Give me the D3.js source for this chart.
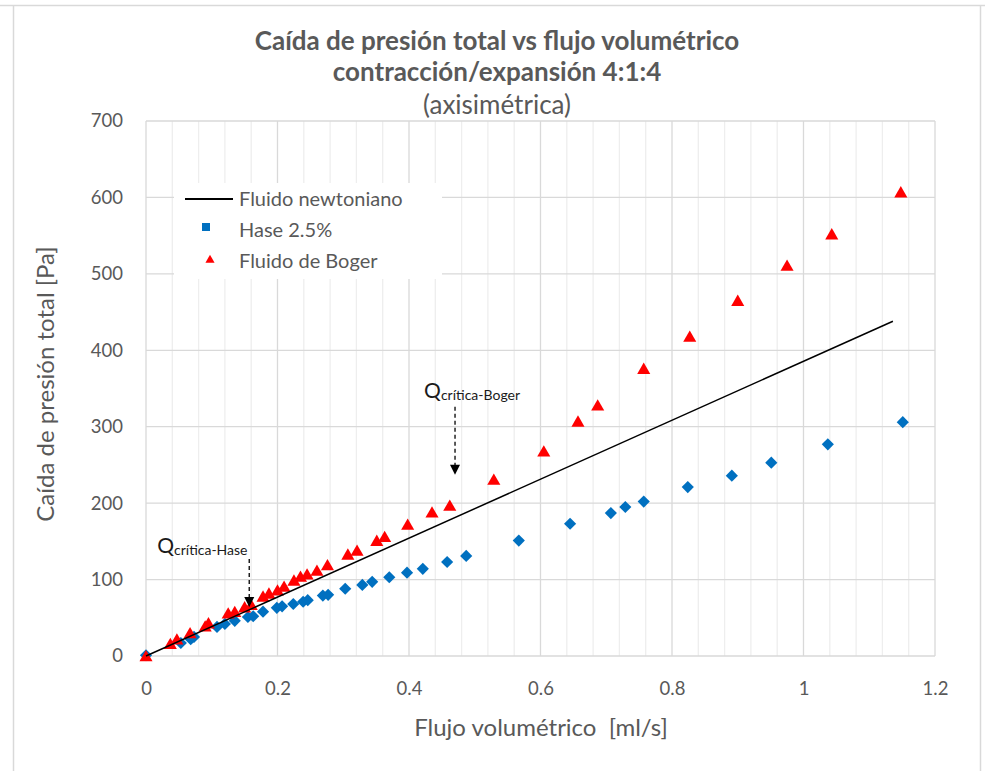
<!DOCTYPE html>
<html>
<head>
<meta charset="utf-8">
<script src="https://cdnjs.cloudflare.com/ajax/libs/d3/7.8.5/d3.min.js"></script>
<style>
  body { margin: 0; background: #fff; }
  text { font-family: Lato, "Open Sans", sans-serif; }
</style>
</head>
<body>
<div id="chart"></div>
<script>
// data
var newtonX = [0, 1.136]
var newtonY = [0, 438]

var haseX = [0, 0.053, 0.068, 0.073, 0.108, 0.12, 0.135, 0.155, 0.163, 0.178, 0.199, 0.207,
  0.224, 0.239, 0.246, 0.269, 0.277, 0.303, 0.329, 0.344, 0.37, 0.397, 0.421, 0.458, 0.487,
  0.567, 0.645, 0.707, 0.729, 0.757, 0.824, 0.891, 0.951, 1.037, 1.151]
var haseY = [1, 17, 22, 25, 38, 42, 46, 51, 52, 58, 63, 65,
  68, 71, 73, 79, 80, 88, 93, 97, 103, 109, 114, 123, 131,
  151, 173, 187, 195, 202, 221, 236, 253, 277, 306]

var bogerX = [0, 0.037, 0.047, 0.067, 0.09, 0.095, 0.125, 0.135, 0.15, 0.16, 0.178, 0.187,
  0.2, 0.21, 0.225, 0.235, 0.245, 0.26, 0.276, 0.307, 0.321, 0.351, 0.363, 0.398, 0.435,
  0.462, 0.529, 0.605, 0.657, 0.687, 0.757, 0.827, 0.9, 0.975, 1.043, 1.148]
var bogerY = [-2, 14, 20, 28, 37, 41, 54, 56, 62, 65, 76, 80,
  84, 89, 97, 102, 105, 110, 117, 131, 136, 149, 154, 170, 186,
  195, 229, 266, 305, 326, 374, 416, 463, 509, 550, 605]

var xTicks = [0, 0.2, 0.4, 0.6, 0.8, 1, 1.2]
var yTicks = [0, 100, 200, 300, 400, 500, 600, 700]

var titleLines = ["Caída de presión total vs flujo volumétrico", "contracción/expansión 4:1:4", "(axisimétrica)"]
var legendNames = ["Fluido newtoniano", "Hase 2.5%", "Fluido de Boger"]

var W = 985, H = 771
var grey = "#595959"

var svg = d3.select("#chart").append("svg")
  .attr("width", W).attr("height", H)

svg.append("rect").attr("width", W).attr("height", H).attr("fill", "#fff")

// outer frame
svg.append("line").attr("x1", 0).attr("x2", W).attr("y1", 5.5).attr("y2", 5.5)
  .attr("stroke", "#d9d9d9").attr("stroke-width", 1.5)
svg.append("line").attr("x1", 13.5).attr("x2", 13.5).attr("y1", 5).attr("y2", H)
  .attr("stroke", "#d9d9d9").attr("stroke-width", 1.5)
svg.append("line").attr("x1", 980.5).attr("x2", 980.5).attr("y1", 5).attr("y2", H)
  .attr("stroke", "#d9d9d9").attr("stroke-width", 1.5)

var x = d3.scaleLinear().domain([0, 1.2]).range([146, 935])
var y = d3.scaleLinear().domain([0, 700]).range([656, 121])

// minor vertical grid
var minor = d3.range(0, 1.2001, 0.04).filter(function(d) {
  return Math.abs(d / 0.2 - Math.round(d / 0.2)) > 0.01 })
svg.append("g").selectAll("line").data(minor).enter().append("line")
  .attr("x1", function(d) { return x(d) }).attr("x2", function(d) { return x(d) })
  .attr("y1", y(0)).attr("y2", y(700))
  .attr("stroke", "#eeeeee").attr("stroke-width", 1.3)

// major grid
svg.append("g").selectAll("line").data(xTicks).enter().append("line")
  .attr("x1", function(d) { return x(d) }).attr("x2", function(d) { return x(d) })
  .attr("y1", y(0)).attr("y2", y(700))
  .attr("stroke", "#d9d9d9").attr("stroke-width", 1.3)
svg.append("g").selectAll("line").data(yTicks).enter().append("line")
  .attr("x1", x(0)).attr("x2", x(1.2))
  .attr("y1", function(d) { return y(d) }).attr("y2", function(d) { return y(d) })
  .attr("stroke", "#d9d9d9").attr("stroke-width", 1.3)

// axes
var xAxis = svg.append("g")
  .attr("transform", "translate(0," + y(0) + ")")
  .call(d3.axisBottom(x).tickValues(xTicks).tickSize(0).tickPadding(26)
    .tickFormat(function(d) { return String(+d.toFixed(2)) }))
xAxis.select(".domain").remove()
xAxis.selectAll("text").attr("fill", grey).style("font-size", "18.5px")

var yAxis = svg.append("g")
  .attr("transform", "translate(" + x(0) + ",0)")
  .call(d3.axisLeft(y).tickValues(yTicks).tickSize(0).tickPadding(23))
yAxis.select(".domain").remove()
yAxis.selectAll("text").attr("fill", grey).style("font-size", "18.5px")

// titles
var ty = [50, 81, 114]
titleLines.forEach(function(t, i) {
  svg.append("text").attr("x", 497).attr("y", ty[i])
    .attr("text-anchor", "middle").attr("fill", grey)
    .style("font-size", "26px")
    .style("font-weight", i < 2 ? "bold" : "normal")
    .text(t)
})

svg.append("text").attr("x", 541).attr("y", 736)
  .attr("text-anchor", "middle").attr("fill", grey).style("font-size", "24px")
  .style("white-space", "pre")
  .text("Flujo volumétrico  [ml/s]")

svg.append("text")
  .attr("transform", "translate(54,384) rotate(-90)")
  .attr("text-anchor", "middle").attr("fill", grey).style("font-size", "24px")
  .text("Caída de presión total [Pa]")

// markers
var diamond = d3.symbol().type(d3.symbolSquare).size(74)
var tri = d3.symbol().type(d3.symbolTriangle).size(74)

svg.append("g").selectAll("path").data(haseX).enter().append("path")
  .attr("d", diamond)
  .attr("transform", function(d, i) { return "translate(" + x(d) + "," + y(haseY[i]) + ") rotate(45)" })
  .attr("fill", "#0070C0")

svg.append("g").selectAll("path").data(bogerX).enter().append("path")
  .attr("d", tri)
  .attr("transform", function(d, i) { return "translate(" + x(d) + "," + y(bogerY[i]) + ")" })
  .attr("fill", "#FF0000")

// newtonian line
var line = d3.line().x(function(d) { return x(d) }).y(function(d, i) { return y(newtonY[i]) })
svg.append("path").datum(newtonX)
  .attr("d", line).attr("fill", "none").attr("stroke", "#000").attr("stroke-width", 1.5)

// annotations
function annot(qx, qy, sub, ax, a0, a1, tip) {
  var t = svg.append("text").attr("x", x(qx)).attr("y", y(qy)).attr("fill", "#1a1a1a")
  t.append("tspan").style("font-size", "21px").text("Q")
  t.append("tspan").style("font-size", "14px").attr("dy", 2).text(sub)
  svg.append("line").attr("x1", x(ax)).attr("x2", x(ax)).attr("y1", y(a0)).attr("y2", y(a1))
    .attr("stroke", "#000").attr("stroke-width", 1.3).attr("stroke-dasharray", "4,3")
  var px = x(ax), py = y(tip)
  svg.append("path")
    .attr("d", "M" + (px - 5) + "," + (py - 10) + "L" + (px + 5) + "," + (py - 10) + "L" + px + "," + py + "Z")
    .attr("fill", "#000")
}
annot(0.017, 135, "crítica-Hase", 0.157, 127, 76, 64)
annot(0.423, 338, "crítica-Boger", 0.47, 326, 250, 237)

// legend
var lg = svg.append("g")
lg.append("rect").attr("x", 174).attr("y", 183).attr("width", 268).attr("height", 96).attr("fill", "#fff")
lg.append("line").attr("x1", 185).attr("x2", 233).attr("y1", 199).attr("y2", 199)
  .attr("stroke", "#000").attr("stroke-width", 2)
lg.append("rect").attr("x", 202).attr("y", 223).attr("width", 8).attr("height", 8).attr("fill", "#0070C0")
lg.append("path").attr("d", d3.symbol().type(d3.symbolTriangle).size(36))
  .attr("transform", "translate(210,260)").attr("fill", "#FF0000")
var ly = [206, 237, 268]
legendNames.forEach(function(n, i) {
  lg.append("text").attr("x", 239).attr("y", ly[i]).attr("fill", grey)
    .style("font-size", "20px").text(n)
})
</script>
</body>
</html>
